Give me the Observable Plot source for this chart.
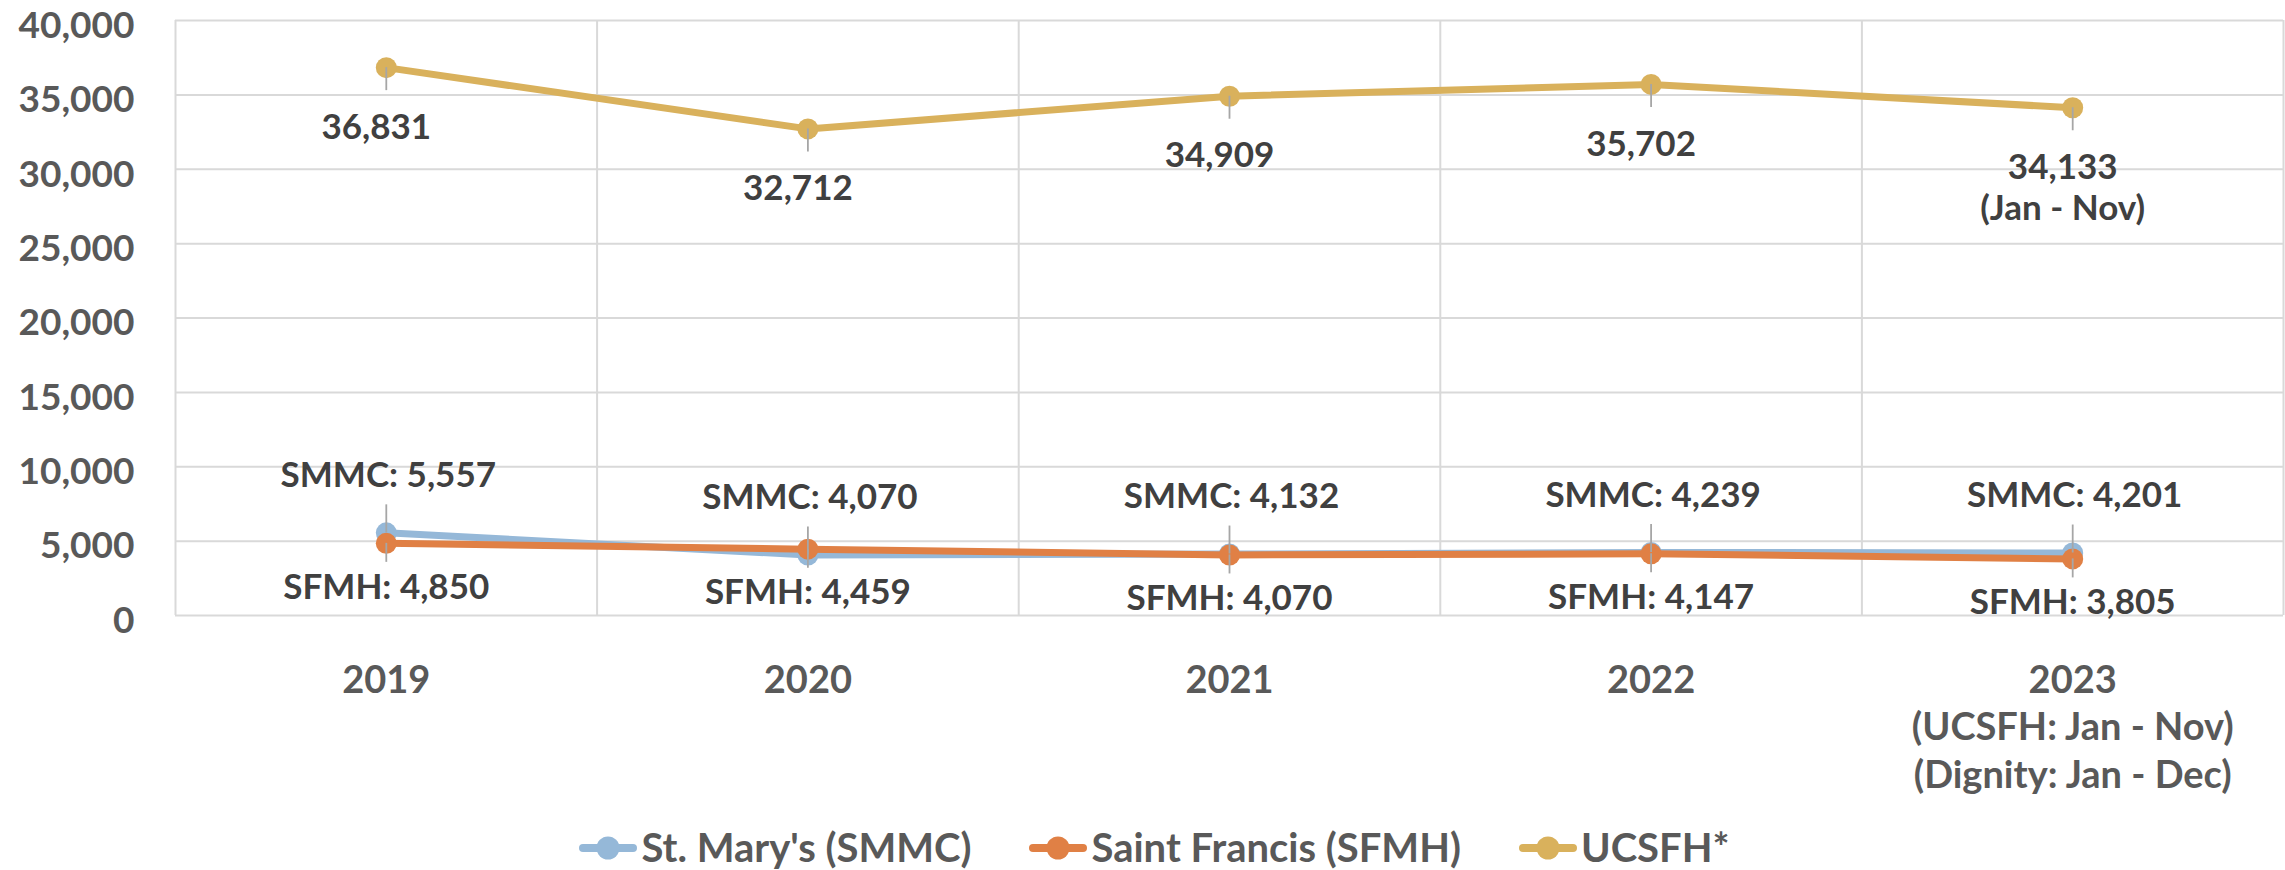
<!DOCTYPE html>
<html>
<head>
<meta charset="utf-8">
<script src="https://cdn.jsdelivr.net/npm/d3@7"></script>
<script src="https://cdn.jsdelivr.net/npm/@observablehq/plot@0.6"></script>
<style>
  html, body { margin: 0; padding: 0; background: #fff; }
  body { width: 2285px; height: 870px; overflow: hidden; font-family: Lato, "Open Sans", sans-serif; padding-top: 6px; box-sizing: border-box; }
  #chart svg { display: block; }
  #legend { display: flex; justify-content: center; align-items: center; height: 45px; padding-left: 24px; }
  .item { display: flex; align-items: center; margin: 0 29px; font-size: 40px; font-weight: bold; color: #595959; line-height: 45px; }
  .item svg { margin-right: 4px; }
</style>
</head>
<body>
<div id="chart"></div>
<div id="legend"></div>
<script>
// ---- data ----
const years = ["2019", "2020", "2021", "2022", "2023"];
const xLabels = ["2019", "2020", "2021", "2022", "2023\n(UCSFH: Jan - Nov)\n(Dignity: Jan - Dec)"];
const smmc = [5557, 4070, 4132, 4239, 4201];
const sfmh = [4850, 4459, 4070, 4147, 3805];
const ucsfh = [36831, 32712, 34909, 35702, 34133];
const ucsfhNotes = ["", "", "", "", "(Jan - Nov)"];
const yTicks = [0, 5000, 10000, 15000, 20000, 25000, 30000, 35000, 40000];
const seriesNames = ["St. Mary's (SMMC)", "Saint Francis (SFMH)", "UCSFH*"];
const seriesColors = ["#95b8d8", "#e08045", "#d9b15c"];

// ---- chart ----
const fmt = d3.format(",");
const idx = years.map((_, i) => i);
const bounds = d3.range(years.length + 1).map(i => i - 0.5);
const labelStyle = { fill: "#404040", fontSize: 35, fontWeight: "bold" };
const axisStyle = { fill: "#595959", fontSize: 38, fontWeight: "bold" };
const leader = { stroke: "#a6a6a6", strokeWidth: 1.8 };

const series = [smmc, sfmh, ucsfh];
const lineMarks = series.flatMap((vals, s) => [
  Plot.lineY(idx, { x: i => i, y: i => vals[i], stroke: seriesColors[s], strokeWidth: 7, strokeLinejoin: "round", strokeLinecap: "round" }),
  Plot.dot(idx, { x: i => i, y: i => vals[i], r: 10.5, fill: seriesColors[s], stroke: "none" })
]);

const chart = Plot.plot({
  width: 2285,
  height: 819,
  marginLeft: 175,
  marginRight: 2,
  marginTop: 14,
  marginBottom: 210,
  x: { type: "linear", domain: [-0.5, years.length - 0.5], axis: null },
  y: { domain: [0, 40000], axis: null },
  style: { fontFamily: "Lato, 'Open Sans', sans-serif", background: "transparent", overflow: "visible" },
  marks: [
    Plot.ruleY(yTicks, { y: d => d, stroke: "#d9d9d9", strokeWidth: 2 }),
    Plot.ruleX(bounds, { x: d => d, stroke: "#d9d9d9", strokeWidth: 2 }),
    Plot.text(yTicks, { x: -0.5, y: d => d, text: d => fmt(d), textAnchor: "end", dx: -41, dy: 5.5, ...axisStyle, fontSize: 37 }),
    Plot.text(idx, { x: i => i, y: 0, text: i => xLabels[i], lineAnchor: "top", dy: 43, lineHeight: 1.26, ...axisStyle }),
    ...lineMarks,
    // leader lines from points toward their labels
    Plot.ruleX(idx, { x: i => i, y1: i => ucsfh[i], y2: i => ucsfh[i], insetBottom: -23, ...leader }),
    Plot.ruleX(idx, { x: i => i, y1: i => smmc[i], y2: i => smmc[i], insetTop: -28, ...leader }),
    Plot.ruleX(idx, { x: i => i, y1: i => sfmh[i], y2: i => sfmh[i], insetBottom: -19, ...leader }),
    Plot.text(idx, { x: i => i, y: i => ucsfh[i], text: i => fmt(ucsfh[i]) + (ucsfhNotes[i] ? "\n" + ucsfhNotes[i] : ""), lineAnchor: "top", dy: 42, dx: -10, lineHeight: 1.17, ...labelStyle }),
    Plot.text(idx, { x: i => i, y: i => smmc[i], text: i => "SMMC: " + fmt(smmc[i]), dy: -57, dx: 2, ...labelStyle }),
    Plot.text(idx, { x: i => i, y: i => sfmh[i], text: i => "SFMH: " + fmt(sfmh[i]), dy: 44, dx: 0, ...labelStyle })
  ]
});
document.getElementById("chart").appendChild(chart);

// ---- legend ----
const legend = d3.select("#legend");
seriesNames.forEach((name, s) => {
  const item = legend.append("div").attr("class", "item");
  const sw = item.append("svg").attr("width", 58).attr("height", 30);
  sw.append("line").attr("x1", 4).attr("x2", 54).attr("y1", 15).attr("y2", 15)
    .attr("stroke", seriesColors[s]).attr("stroke-width", 8).attr("stroke-linecap", "round");
  sw.append("circle").attr("cx", 29).attr("cy", 15).attr("r", 11.5).attr("fill", seriesColors[s]);
  item.append("span").text(name);
});
</script>
</body>
</html>
